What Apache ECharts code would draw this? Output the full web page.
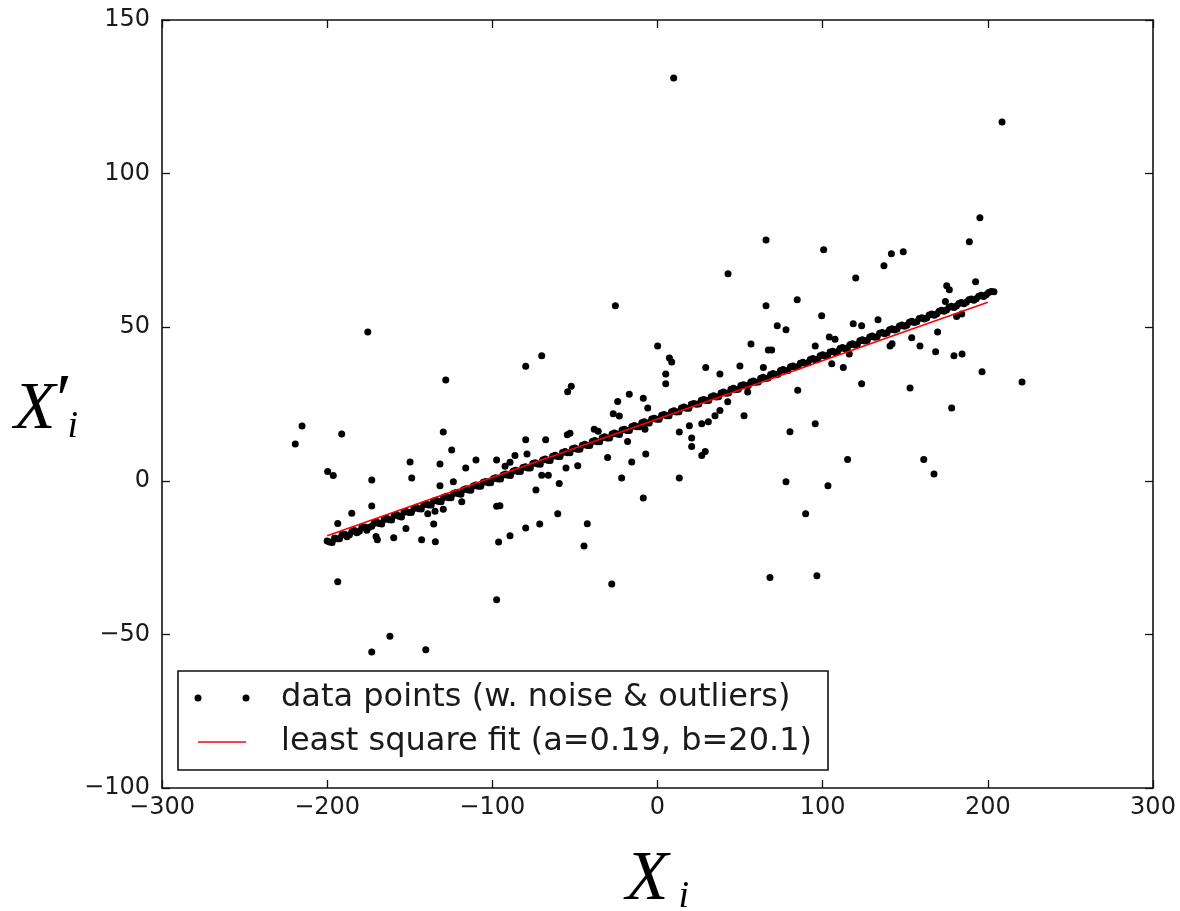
<!DOCTYPE html>
<html>
<head>
<meta charset="utf-8">
<script src="https://cdn.jsdelivr.net/npm/echarts@6/dist/echarts.min.js"></script>
<style>
  html, body { margin: 0; padding: 0; background: #fff; }
  #chart { width: 1180px; height: 911px; }
</style>
</head>
<body>
<div id="chart"></div>
<script>
// points that sit on the trend (dense band)
var bandPoints = [
  [-200,-19.6],[-197,-20.1],[-194,-18.9],[-191,-17.6],[-188,-18.2],[-185,-16.5],[-182,-16.9],[-179,-15.2],[-176,-16.1],[-173,-14.8],
  [-170,-13.3],[-167,-14.1],[-164,-12.2],[-161,-12.8],[-158,-11.0],[-155,-11.8],[-152,-10.0],[-149,-10.3],[-146,-8.6],[-143,-9.2],
  [-140,-7.5],[-137,-7.9],[-134,-6.3],[-131,-6.8],[-128,-5.0],[-125,-5.5],[-122,-3.8],[-119,-4.4],[-116,-2.6],[-113,-3.1],
  [-110,-1.4],[-107,-1.8],[-104,-0.2],[-101,-0.6],[-98,1.0],[-95,0.6],[-92,2.2],[-89,1.7],[-86,3.4],[-83,3.0],
  [-80,4.6],[-77,4.2],[-74,5.9],[-71,5.4],[-68,7.1],[-65,6.6],[-62,8.3],[-59,7.9],[-56,9.5],[-53,9.1],
  [-50,10.7],[-47,10.3],[-44,11.9],[-41,11.5],[-38,13.1],[-35,12.7],[-32,14.3],[-29,13.9],[-26,15.6],[-23,15.1],
  [-20,16.8],[-17,16.4],[-14,18.0],[-11,17.6],[-8,19.2],[-5,18.8],[-2,20.4],[1,20.0],[4,21.6],[7,21.2],
  [10,22.8],[13,22.5],[16,24.0],[19,23.6],[22,25.2],[25,25.0],[28,26.5],[31,26.1],[34,27.7],[37,27.4],
  [40,28.9],[43,28.6],[46,30.1],[49,29.8],[52,31.3],[55,31.0],[58,32.5],[61,32.2],[64,33.7],[67,33.5],
  [70,34.9],[73,34.7],[76,36.2],[79,35.9],[82,37.4],[85,37.2],[88,38.6],[91,38.4],[94,39.8],[97,39.6],
  [100,41.0],[103,40.8],[106,42.2],[109,42.0],[112,43.4],[115,43.2],[118,44.6],[121,44.4],[124,45.9],[127,45.7],
  [130,47.1],[133,46.9],[136,48.3],[139,48.2],[142,49.5],[145,49.4],[148,50.7],[151,50.6],[154,51.9],[157,51.8],
  [160,53.1],[163,53.0],[166,54.3],[169,54.3],[172,55.5],[175,55.6],[178,56.8],[181,56.9],[184,58.0],[187,58.1],
  [190,59.2],[193,59.3],[196,60.4],[199,60.6],[202,61.6]
];

// more band points lying between the ones above
var bandPoints2 = [
  [-198.5,-19.9],[-195.5,-18.6],[-192.5,-18.9],[-189.5,-17.4],[-186.5,-17.6],[-183.5,-16.2],[-180.5,-16.4],[-177.5,-15.0],
  [-174.5,-15.1],[-171.5,-13.8],[-168.5,-13.9],[-165.5,-12.6],[-162.5,-12.7],[-159.5,-11.4],[-156.5,-11.5],[-153.5,-10.2],
  [-150.5,-10.3],[-147.5,-9.0],[-144.5,-9.1],[-141.5,-7.8],[-138.5,-7.9],[-135.5,-6.6],[-132.5,-6.7],[-129.5,-5.4],
  [-126.5,-5.5],[-123.5,-4.1],[-120.5,-4.2],[-117.5,-2.9],[-114.5,-3.0],[-111.5,-1.7],[-108.5,-1.8],[-105.5,-0.5],
  [-102.5,-0.6],[-99.5,0.7],[-96.5,0.6],[-93.5,1.9],[-90.5,1.8],[-87.5,3.1],[-84.5,3.0],[-81.5,4.3],
  [-78.5,4.2],[-75.5,5.6],[-72.5,5.5],[-69.5,6.8],[-66.5,6.7],[-63.5,8.0],[-60.5,7.9],[-57.5,9.2],
  [-54.5,9.1],[-51.5,10.4],[-48.5,10.3],[-45.5,11.6],[-42.5,11.5],[-39.5,12.8],[-36.5,12.7],[-33.5,14.0],
  [-30.5,13.9],[-27.5,15.2],[-24.5,15.2],[-21.5,16.5],[-18.5,16.4],[-15.5,17.7],[-12.5,17.6],[-9.5,18.9],
  [-6.5,18.8],[-3.5,20.1],[-0.5,20.0],[2.5,21.3],[5.5,21.2],[8.5,22.5],[11.5,22.4],[14.5,23.7],
  [17.5,23.6],[20.5,24.9],[23.5,24.9],[26.5,26.2],[29.5,26.1],[32.5,27.4],[35.5,27.3],[38.5,28.6],
  [41.5,28.5],[44.5,29.8],[47.5,29.7],[50.5,31.0],[53.5,30.9],[56.5,32.2],[59.5,32.1],[62.5,33.4],
  [65.5,33.3],[68.5,34.6],[71.5,34.5],[74.5,35.9],[77.5,35.8],[80.5,37.1],[83.5,37.0],[86.5,38.3],
  [89.5,38.2],[92.5,39.5],[95.5,39.4],[98.5,40.7],[101.5,40.6],[104.5,41.9],[107.5,41.8],[110.5,43.1],
  [113.5,43.0],[116.5,44.3],[119.5,44.2],[122.5,45.6],[125.5,45.5],[128.5,46.8],[131.5,46.7],[134.5,48.0],
  [137.5,47.9],[140.5,49.2],[143.5,49.1],[146.5,50.4],[149.5,50.3],[152.5,51.6],[155.5,51.5],[158.5,52.8],
  [161.5,52.7],[164.5,54.0],[167.5,53.9],[170.5,55.2],[173.5,55.2],[176.5,56.5],[179.5,56.4],[182.5,57.7],
  [185.5,57.6],[188.5,58.9],[191.5,58.8],[194.5,60.1],[197.5,60.0],[200.5,61.3]
];

// points scattered away from the trend (noise and outliers)
var outlierPoints = [
  [-175.4,48.4],[-128.2,32.8],[-215.2,17.8],[-219.3,12.0],[-191.2,15.2],[-129.7,15.9],[-124.6,10.0],[-149.8,6.1],
  [-131.7,5.5],[-116.1,4.2],[-109.9,6.8],[-97.4,6.8],[-199.7,3.0],[-196.3,1.7],[-173.0,0.3],[-148.8,0.9],
  [-131.7,-1.6],[-123.6,-0.3],[-173.0,-8.2],[-185.1,-10.6],[-193.6,-13.9],[-118.5,-6.8],[-139.1,-10.7],[-135.5,-14.1],
  [-152.3,-15.5],[-170.4,-18.1],[-169.6,-19.2],[-159.7,-18.5],[-142.8,-19.2],[-134.5,-19.8],[-97.4,-8.3],[-96.2,-19.9],
  [-193.6,-32.9],[-97.4,-38.7],[-162.0,-50.6],[-173.0,-55.7],[-140.3,-55.0],[-134.7,-9.9],[-129.7,-9.3],
  [-25.5,57.0],[0.1,43.9],[7.2,40.0],[8.6,38.7],[5.0,34.8],[5.0,31.6],[-79.8,37.3],[-70.1,40.7],[-54.4,29.0],
  [-52.2,30.8],[-24.1,25.8],[-17.1,28.2],[-8.6,26.9],[-5.9,23.7],[-26.8,21.8],[-23.1,21.1],[-79.8,13.4],
  [-67.7,13.4],[-79.0,8.7],[-86.3,8.2],[-89.3,6.0],[-92.3,4.7],[-54.6,15.0],[-53.0,15.5],[-38.3,16.8],
  [-35.9,16.1],[-18.1,12.8],[-7.6,16.8],[-30.2,7.6],[-15.6,6.1],[-7.1,8.7],[-21.7,0.9],[13.2,0.9],
  [13.2,15.9],[19.3,17.9],[20.7,13.9],[20.7,11.2],[-8.6,-5.6],[-55.4,4.2],[-48.3,4.9],[-70.1,1.8],
  [-66.1,1.8],[-59.5,-0.9],[-73.6,-3.0],[-95.4,-8.1],[-60.4,-10.7],[-71.3,-14.1],[-42.5,-14.0],[-79.8,-15.4],
  [-89.3,-17.9],[-44.5,-21.2],[-27.7,-33.6],
  [65.7,78.4],[100.6,75.2],[141.6,73.9],[137.1,70.0],[148.8,74.6],[42.7,67.4],[120.0,66.0],[84.6,58.9],
  [65.7,57.0],[99.4,53.7],[72.5,50.5],[77.8,49.2],[118.5,51.1],[123.6,50.5],[133.5,52.4],[104.0,46.8],
  [107.5,46.1],[56.6,44.5],[67.1,42.6],[69.1,42.6],[95.5,43.9],[140.8,43.9],[142.0,44.6],[29.2,36.9],
  [37.8,34.8],[49.9,37.4],[64.1,36.9],[105.5,38.1],[112.5,36.9],[116.1,41.3],[123.6,31.6],[84.9,29.5],
  [54.6,28.9],[42.5,25.7],[37.8,22.9],[34.8,21.2],[52.4,21.2],[26.8,18.6],[30.8,19.2],[26.8,8.2],
  [28.9,9.5],[80.2,16.0],[95.5,18.6],[115.1,6.9],[77.8,-0.3],[103.2,-1.6],[89.7,-10.7],[68.1,-31.5],
  [96.5,-30.9],
  [195.2,85.6],[188.8,77.8],[192.6,64.8],[175.1,63.5],[176.7,62.2],[203.7,61.5],[174.3,58.4],[181.1,53.5],
  [184.2,54.3],[169.6,48.4],[153.9,46.6],[158.9,43.9],[168.4,42.0],[179.5,40.7],[184.4,41.3],[196.5,35.5],
  [220.7,32.2],[152.9,30.2],[178.1,23.7],[161.2,6.9],[167.4,2.2],[9.8,131.1],[208.6,116.8]
];

// fitted line end points
var fitX = [-200, 200];
var fitY = [-17.9, 58.1];

var xTicks = { min: -300, max: 300, step: 100 };
var yTicks = { min: -100, max: 150, step: 50 };

var pointsName = 'data points (w. noise & outliers)';
var fitName = 'least square fit (a=0.19, b=20.1)';

var chart = echarts.init(document.getElementById('chart'));

function minusFmt(v) {
  return v < 0 ? '\u2212' + Math.abs(v) : String(v);
}

var frameLine = { show: true, onZero: false, lineStyle: { color: '#111', width: 1.6 } };
var innerTick = { show: true, inside: true, length: 8, lineStyle: { color: '#111', width: 1.3 } };
var tickFont = { fontFamily: 'DejaVu Sans', fontSize: 24, color: '#1a1a1a' };
var serif = { fontFamily: 'Liberation Serif', fontStyle: 'italic', color: '#000' };

var fitData = fitX.map(function (x, i) { return [x, fitY[i]]; });

var option = {
  backgroundColor: '#fff',
  animation: false,
  grid: { left: 162, right: 27, top: 20, bottom: 123, containLabel: false, outerBoundsMode: 'none' },
  legend: {
    orient: 'vertical',
    left: 178,
    top: 671,
    padding: [11, 16, 12, 16],
    itemGap: 12,
    itemWidth: 82,
    itemHeight: 8,
    borderColor: '#111',
    borderWidth: 1.6,
    borderRadius: 0,
    backgroundColor: '#fff',
    textStyle: { fontFamily: 'DejaVu Sans', fontSize: 32, color: '#1a1a1a' },
    data: [
      { name: pointsName, icon: 'path://M0,0M82,8M0.5,4a3.5,3.5 0 1,0 7,0a3.5,3.5 0 1,0 -7,0ZM48.5,4a3.5,3.5 0 1,0 7,0a3.5,3.5 0 1,0 -7,0Z' },
      { name: fitName, icon: 'path://M0,0M82,8M4,3.2H52V4.8H4Z' }
    ]
  },
  xAxis: [
    {
      type: 'value', position: 'bottom',
      min: xTicks.min, max: xTicks.max, interval: xTicks.step,
      axisLine: frameLine, axisTick: innerTick, splitLine: { show: false },
      axisLabel: Object.assign({ margin: 8, formatter: minusFmt }, tickFont),
      name: '{x|X}{i|i}',
      nameLocation: 'middle',
      nameGap: 58,
      nameTextStyle: {
        rich: {
          x: Object.assign({ fontSize: 70, verticalAlign: 'top' }, serif),
          i: Object.assign({ fontSize: 38, verticalAlign: 'top', padding: [32, 0, 0, 10] }, serif)
        }
      }
    },
    {
      type: 'value', position: 'top',
      min: xTicks.min, max: xTicks.max, interval: xTicks.step,
      axisLine: frameLine, axisTick: innerTick, splitLine: { show: false },
      axisLabel: { show: false }
    }
  ],
  yAxis: [
    {
      type: 'value', position: 'left',
      min: yTicks.min, max: yTicks.max, interval: yTicks.step,
      axisLine: frameLine, axisTick: innerTick, splitLine: { show: false },
      axisLabel: Object.assign({ margin: 12, formatter: minusFmt }, tickFont),
      name: '{x|X}{p|\u2032}{i|i}',
      nameLocation: 'middle',
      nameRotate: 0,
      nameGap: 72,
      nameTextStyle: {
        rich: {
          x: Object.assign({ fontSize: 68, verticalAlign: 'top', padding: [14, 0, 0, 0] }, serif),
          p: Object.assign({ fontSize: 72, verticalAlign: 'top', width: 2, padding: [6, 0, 0, 10] }, serif),
          i: Object.assign({ fontSize: 38, verticalAlign: 'top', padding: [46, 0, 0, 0] }, serif)
        }
      }
    },
    {
      type: 'value', position: 'right',
      min: yTicks.min, max: yTicks.max, interval: yTicks.step,
      axisLine: frameLine, axisTick: innerTick, splitLine: { show: false },
      axisLabel: { show: false }
    }
  ],
  series: [
    {
      name: pointsName,
      type: 'scatter',
      xAxisIndex: 0, yAxisIndex: 0,
      symbol: 'circle',
      symbolSize: 7,
      itemStyle: { color: '#000', opacity: 1 },
      data: bandPoints.concat(bandPoints2, outlierPoints),
      z: 2
    },
    {
      name: fitName,
      type: 'line',
      xAxisIndex: 0, yAxisIndex: 0,
      showSymbol: false,
      symbol: 'none',
      lineStyle: { color: '#ff0000', width: 1.6 },
      itemStyle: { color: '#ff0000' },
      data: fitData,
      z: 3
    }
  ]
};

chart.setOption(option);
</script>
</body>
</html>
